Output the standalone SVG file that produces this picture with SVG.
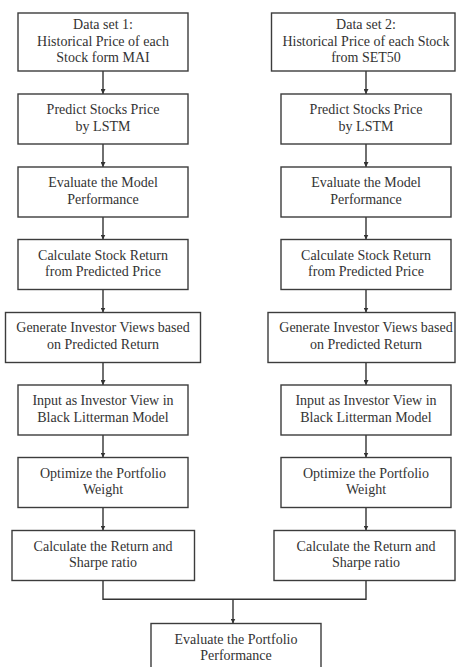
<svg xmlns="http://www.w3.org/2000/svg" width="456" height="667" viewBox="0 0 456 667">
<defs>
<marker id="ah" viewBox="0 0 8 8" refX="8" refY="4" markerWidth="5" markerHeight="5" markerUnits="userSpaceOnUse" orient="auto">
<path d="M0,0 L8,4 L0,8 Z" fill="#333"/>
</marker>
<style>
rect{fill:#fff;stroke:#3c3c3c;stroke-width:1.4}
text{font-family:"Liberation Serif","Times New Roman",serif;font-size:14px;fill:#333;text-anchor:middle}
.c line,.c polyline{stroke:#333;stroke-width:1.4;fill:none}
</style>
</defs>
<rect x="0" y="0" width="456" height="667" style="fill:#fff;stroke:none"/>
<g class="c" id="connectors">
<line x1="103" y1="71" x2="103" y2="94" marker-end="url(#ah)"/>
<line x1="103" y1="144" x2="103" y2="167" marker-end="url(#ah)"/>
<line x1="103" y1="217" x2="103" y2="239.5" marker-end="url(#ah)"/>
<line x1="103" y1="289.5" x2="103" y2="312.5" marker-end="url(#ah)"/>
<line x1="103" y1="362.5" x2="103" y2="385" marker-end="url(#ah)"/>
<line x1="103" y1="435" x2="103" y2="457.5" marker-end="url(#ah)"/>
<line x1="103" y1="507.5" x2="103" y2="530.5" marker-end="url(#ah)"/>
<line x1="366" y1="71" x2="366" y2="94" marker-end="url(#ah)"/>
<line x1="366" y1="144" x2="366" y2="167" marker-end="url(#ah)"/>
<line x1="366" y1="217" x2="366" y2="239.5" marker-end="url(#ah)"/>
<line x1="366" y1="289.5" x2="366" y2="312.5" marker-end="url(#ah)"/>
<line x1="366" y1="362.5" x2="366" y2="385" marker-end="url(#ah)"/>
<line x1="366" y1="435" x2="366" y2="457.5" marker-end="url(#ah)"/>
<line x1="366" y1="507.5" x2="366" y2="530.5" marker-end="url(#ah)"/>
<polyline points="103,580.5 103,599.3 366,599.3 366,580.5"/>
<line x1="233" y1="599.3" x2="233" y2="623.5" marker-end="url(#ah)"/>
</g>
<g id="l1"><rect x="18" y="13" width="170" height="58"/><text x="103" y="29">Data set 1:</text><text x="103" y="45.5">Historical Price of each</text><text x="103" y="62">Stock form MAI</text></g>
<g id="l2"><rect x="18" y="94" width="170" height="50"/><text x="103" y="114">Predict Stocks Price</text><text x="103" y="130.5">by LSTM</text></g>
<g id="l3"><rect x="18" y="167" width="170" height="50"/><text x="103" y="187.3">Evaluate the Model</text><text x="103" y="203.5">Performance</text></g>
<g id="l4"><rect x="18" y="239.5" width="170" height="50"/><text x="103" y="259.8">Calculate Stock Return</text><text x="103" y="276">from Predicted Price</text></g>
<g id="l5"><rect x="5.5" y="312.5" width="195" height="50"/><text x="103" y="332">Generate Investor Views based</text><text x="103" y="349">on Predicted Return</text></g>
<g id="l6"><rect x="18" y="385" width="170" height="50"/><text x="103" y="405">Input as Investor View in</text><text x="103" y="421.5">Black Litterman Model</text></g>
<g id="l7"><rect x="18" y="457.5" width="170" height="50"/><text x="103" y="477.8">Optimize the Portfolio</text><text x="103" y="494">Weight</text></g>
<g id="l8"><rect x="12" y="530.5" width="182.5" height="50"/><text x="103" y="550.5">Calculate the Return and</text><text x="103" y="567">Sharpe ratio</text></g>
<g id="r1"><rect x="271.5" y="13" width="183.5" height="58"/><text x="366" y="29">Data set 2:</text><text x="366" y="45.5">Historical Price of each Stock</text><text x="366" y="62">from SET50</text></g>
<g id="r2"><rect x="281" y="94" width="170" height="50"/><text x="366" y="114">Predict Stocks Price</text><text x="366" y="130.5">by LSTM</text></g>
<g id="r3"><rect x="281" y="167" width="170" height="50"/><text x="366" y="187.3">Evaluate the Model</text><text x="366" y="203.5">Performance</text></g>
<g id="r4"><rect x="281" y="239.5" width="170" height="50"/><text x="366" y="259.8">Calculate Stock Return</text><text x="366" y="276">from Predicted Price</text></g>
<g id="r5"><rect x="268" y="312.5" width="187" height="50"/><text x="366" y="332">Generate Investor Views based</text><text x="366" y="349">on Predicted Return</text></g>
<g id="r6"><rect x="281" y="385" width="170" height="50"/><text x="366" y="405">Input as Investor View in</text><text x="366" y="421.5">Black Litterman Model</text></g>
<g id="r7"><rect x="281" y="457.5" width="170" height="50"/><text x="366" y="477.8">Optimize the Portfolio</text><text x="366" y="494">Weight</text></g>
<g id="r8"><rect x="274" y="530.5" width="181" height="50"/><text x="366" y="550.5">Calculate the Return and</text><text x="366" y="567">Sharpe ratio</text></g>
<g id="final"><rect x="151" y="623.5" width="170" height="50"/><text x="236" y="643.5">Evaluate the Portfolio</text><text x="236" y="660">Performance</text></g>
</svg>
